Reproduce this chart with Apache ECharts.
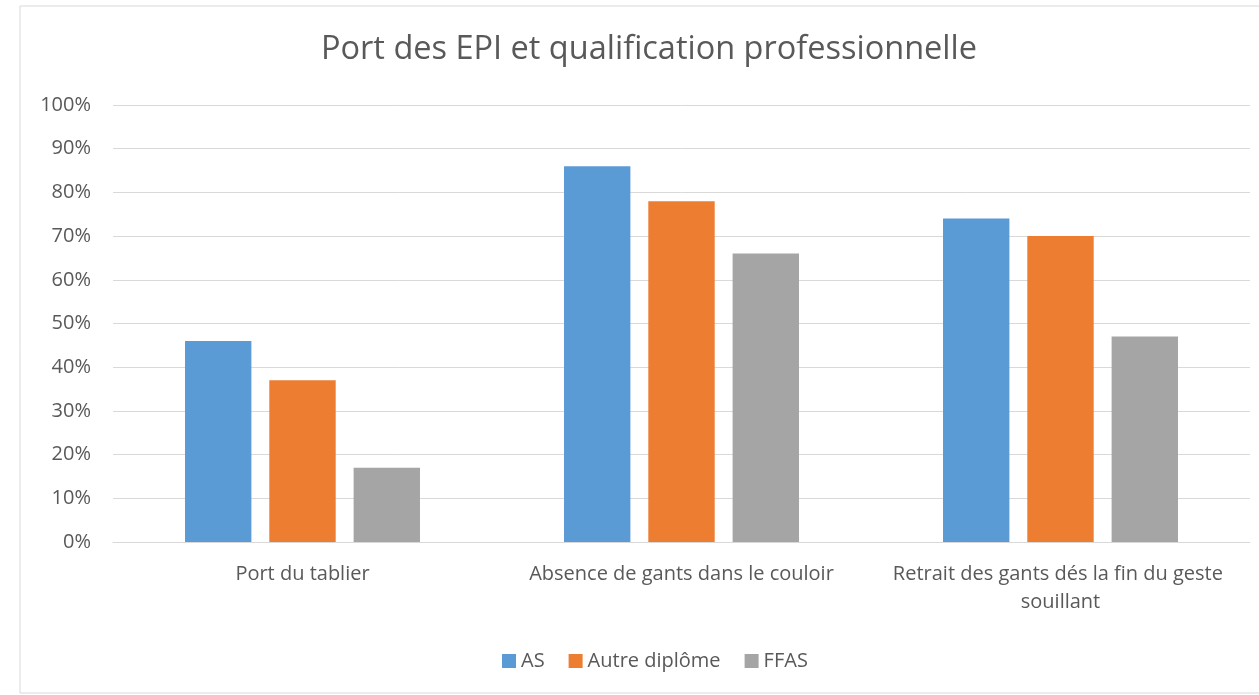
<!DOCTYPE html>
<html>
<head>
<meta charset="utf-8">
<script src="https://cdn.jsdelivr.net/npm/echarts@6/dist/echarts.min.js"></script>
<style>html,body{margin:0;padding:0;background:#fff;}#c{width:1259px;height:695px;}</style>
</head>
<body>
<div id="c"></div>
<script>
const categories = ['Port du tablier', 'Absence de gants dans le couloir', 'Retrait des gants dés la fin du geste souillant'];
const seriesNames = ['AS', 'Autre diplôme', 'FFAS'];
const valuesAS = [46, 86, 74];
const valuesAutre = [37, 78, 70];
const valuesFFAS = [17, 66, 47];
const colors = ['#5B9BD5', '#ED7D31', '#A5A5A5'];
const FONT = 'Open Sans';

const chart = echarts.init(document.getElementById('c'));
const mk = (name, data, color) => ({
  name, type: 'bar', data, itemStyle: { color },
  barGap: '27%', barCategoryGap: '38%'
});
chart.setOption({
  animation: false,
  textStyle: { fontFamily: FONT },
  graphic: [{ type: 'rect', shape: { x: 20, y: 6, width: 1260, height: 687 },
    style: { fill: 'none', stroke: '#d9d9d9', lineWidth: 1 }, z: -1 }],
  title: {
    text: 'Port des EPI et qualification professionnelle',
    left: 644, textAlign: 'center', top: 28,
    textStyle: { fontFamily: FONT, fontSize: 32.5, fontWeight: 'normal', color: '#595959' }
  },
  legend: {
    data: seriesNames, left: 497, top: 646,
    itemWidth: 14, itemHeight: 14, itemGap: 24, icon: 'rect',
    textStyle: { fontFamily: FONT, fontSize: 20, color: '#595959' }
  },
  grid: { left: 113, right: 9, top: 105, bottom: 153 },
  xAxis: {
    type: 'category', data: categories,
    axisLine: { lineStyle: { color: '#d9d9d9', width: 1 } },
    axisTick: { show: false },
    axisLabel: { fontFamily: FONT, fontSize: 20, color: '#595959', margin: 18,
      width: 370, overflow: 'break', lineHeight: 28, interval: 0 }
  },
  yAxis: {
    type: 'value', min: 0, max: 100, interval: 10,
    axisLine: { show: false }, axisTick: { show: false },
    splitLine: { lineStyle: { color: '#d9d9d9', width: 1 } },
    axisLabel: { fontFamily: FONT, fontSize: 20, color: '#595959', margin: 22, formatter: '{value}%' }
  },
  series: [mk(seriesNames[0], valuesAS, colors[0]), mk(seriesNames[1], valuesAutre, colors[1]), mk(seriesNames[2], valuesFFAS, colors[2])]
});
</script>
</body>
</html>
